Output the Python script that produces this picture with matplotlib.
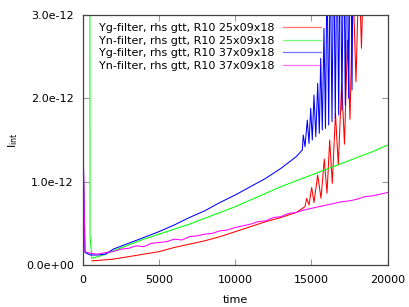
import numpy as np
import matplotlib
matplotlib.use("Agg")
import matplotlib.pyplot as plt

SCALE = 1e-12

# Yg-filter, R10 25x09x18 (red)
red_t = [600, 1000, 2000, 3000, 4000, 5000, 6000, 7000, 8000, 9000, 10000,
         11000, 12000, 13000, 14000, 14577, 14688, 14840, 15016, 15166, 15410,
         15626, 15842, 16020, 16196, 16367, 16576, 16760, 16983, 17166, 17363,
         17527, 17724, 17920, 18117, 18280, 18445]
red_v = [0.05, 0.055, 0.07, 0.10, 0.13, 0.16, 0.21, 0.25, 0.29, 0.34, 0.40,
         0.46, 0.52, 0.57, 0.63, 0.70, 0.80, 0.72, 0.93, 0.75, 1.08,
         0.80, 1.27, 0.86, 1.50, 0.98, 1.82, 1.20, 2.18, 1.45, 2.70,
         1.75, 3.40, 2.20, 3.60, 2.60, 3.80]

# Yn-filter, R10 25x09x18 (green)
green_t = [0, 20, 460, 480, 600, 1000, 1500, 2000, 3000, 4000, 5000, 6000,
           7000, 8000, 9000, 10000, 11000, 12000, 13000, 14000, 15000, 16000,
           17000, 18000, 19000, 20000]
green_v = [1.75, 8.0, 8.0, 0.36, 0.08, 0.10, 0.13, 0.17, 0.24, 0.31, 0.37, 0.43,
           0.49, 0.56, 0.63, 0.70, 0.78, 0.86, 0.94, 1.01, 1.08, 1.15,
           1.22, 1.29, 1.36, 1.44]

# Yg-filter, R10 37x09x18 (blue)
blue_t = [0, 150, 500, 1000, 1500, 2000, 3000, 4000, 5000, 6000, 7000, 8000,
          9000, 10000, 11000, 12000, 13000, 14000, 14400,
          14465, 14577, 14727, 14840, 14950, 15055, 15166, 15285, 15410, 15515,
          15606, 15710, 15822, 15920, 16020, 16130, 16235, 16347, 16460, 16563,
          16675, 16786, 16890, 17000, 17113, 17220, 17330, 17440, 17560, 17660,
          17760]
blue_v = [1.70, 0.15, 0.12, 0.12, 0.13, 0.19, 0.26, 0.33, 0.40, 0.48, 0.57, 0.65,
          0.75, 0.84, 0.94, 1.04, 1.16, 1.30, 1.38,
          1.56, 1.42, 1.74, 1.46, 1.88, 1.50, 2.04, 1.54, 2.18, 1.58,
          2.48, 1.62, 2.84, 1.64, 3.60, 1.68, 3.80, 1.72, 3.90, 1.76,
          4.00, 1.80, 4.10, 1.86, 4.20, 1.92, 4.30, 2.00, 4.40, 2.10,
          4.50]

# Yn-filter, R10 37x09x18 (magenta)
mag_t = [0, 150, 500, 1000, 1500, 2000, 2500, 3000, 3500, 4000, 4500, 5000,
         5500, 6000, 6500, 7000, 7500, 8000, 8500, 9000, 9500, 10000, 10500,
         11000, 11500, 12000, 12500, 13000, 13500, 14000, 14500, 15000, 15500,
         16000, 16500, 17000, 17500, 18000, 18500, 19000, 19500, 20000]
mag_v = [1.74, 0.16, 0.14, 0.13, 0.15, 0.16, 0.19, 0.20, 0.23, 0.22, 0.26, 0.27,
         0.28, 0.31, 0.30, 0.34, 0.35, 0.37, 0.38, 0.41, 0.42, 0.45, 0.47,
         0.49, 0.52, 0.53, 0.57, 0.58, 0.62, 0.63, 0.66, 0.68, 0.70,
         0.72, 0.74, 0.76, 0.77, 0.79, 0.82, 0.83, 0.85, 0.87]

labels = ["Yg-filter, rhs gtt, R10 25x09x18",
          "Yn-filter, rhs gtt, R10 25x09x18",
          "Yg-filter, rhs gtt, R10 37x09x18",
          "Yn-filter, rhs gtt, R10 37x09x18"]
colors = ["#ff0000", "#00ff00", "#0000ff", "#ff00ff"]

x_ticks = [0, 5000, 10000, 15000, 20000]
y_ticks = [0, 1e-12, 2e-12, 3e-12]
y_ticklabels = ["0.0e+00", "1.0e-12", "2.0e-12", "3.0e-12"]

plt.rcParams["font.family"] = "DejaVu Sans"
fig = plt.figure(figsize=(4.09, 3.07), dpi=100)
ax = fig.add_axes([82.7 / 409, 42 / 307, 305 / 409, 250 / 307])

series = [(red_t, red_v), (green_t, green_v), (blue_t, blue_v), (mag_t, mag_v)]
for (t, v), c, lab in zip(series, colors, labels):
    ax.plot(t, np.array(v) * SCALE, color=c, lw=0.75, label=lab)

ax.set_xlim(0, 20000)
ax.set_ylim(0, 3e-12)
ax.set_xticks(x_ticks)
ax.set_xticklabels([str(x) for x in x_ticks])
ax.set_yticks(y_ticks)
ax.set_yticklabels(y_ticklabels)
ax.tick_params(direction="in", length=4.5, width=0.8, color="#999999",
               labelsize=8, top=True, right=True, pad=6.5)
ax.tick_params(axis="x", pad=7.5)
for s in ax.spines.values():
    s.set_color("#444444")
    s.set_linewidth(0.9)

ax.set_xlabel("time", fontsize=8, labelpad=7)
ax.set_ylabel(r"I$_{\mathrm{int}}$", fontsize=8, labelpad=4)

leg = ax.legend(loc="upper left", bbox_to_anchor=(0.055, 0.968), frameon=False,
                fontsize=8, markerfirst=False, handlelength=3.4,
                handletextpad=0.7, labelspacing=0.24, borderpad=0,
                borderaxespad=0)
for h in leg.get_lines():
    h.set_linewidth(0.9)
    h.set_alpha(0.55)

fig.savefig("out.png", dpi=100)
